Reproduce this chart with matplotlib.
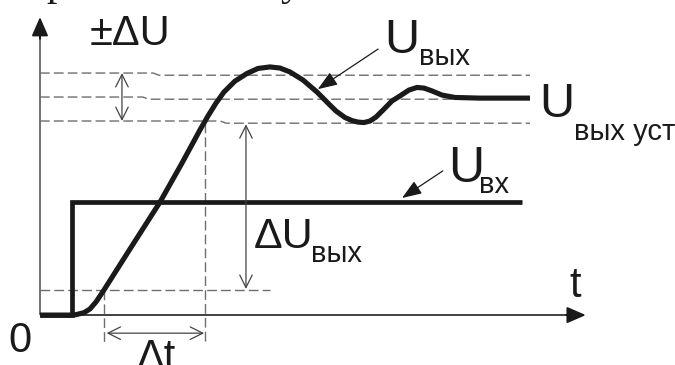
import matplotlib.pyplot as plt

# Step response: input step and output voltage (relative units, U_вых уст = 1)
t_in = [0.0, 0.65, 0.65, 9.84]
u_in = [0.0, 0.0, 0.52, 0.52]

t_out = [0.0, 0.653, 0.735, 0.898, 1.020, 1.143, 1.306, 1.837, 2.449, 2.898,
         3.265, 3.429, 3.592, 3.755, 3.980, 4.224, 4.449, 4.694, 4.898, 5.102,
         5.367, 5.653, 5.918, 6.041, 6.224, 6.367, 6.490, 6.612, 6.735, 6.857,
         7.000, 7.184, 7.347, 7.531, 7.694, 7.837, 8.000, 8.204, 8.469, 8.980, 10.0]
u_out = [0.0, 0.0, 0.002, 0.011, 0.028, 0.060, 0.115, 0.303, 0.518, 0.697,
         0.849, 0.913, 0.972, 1.023, 1.073, 1.108, 1.131, 1.138, 1.133, 1.115,
         1.078, 1.023, 0.963, 0.936, 0.906, 0.892, 0.885, 0.883, 0.890, 0.908,
         0.940, 0.982, 1.005, 1.032, 1.044, 1.041, 1.028, 1.009, 0.998, 0.995, 0.995]

# ±ΔU tolerance band (the drawing has a small jog in every dashed line)
band_left = [1.11, 1.0, 0.89]
band_right = [1.10, 0.99, 0.88]
band_jog = [2.31, 2.10, 3.68]
band_end = 10.0

u_low = 0.115      # level where Δt starts
t_low = 1.31       # output crosses u_low
t_high = 3.37      # output enters the band
low_end = 4.69

T_MAX = 11.14
U_MAX = 1.367

fig = plt.figure(figsize=(6.75, 3.65), dpi=100)
ax = fig.add_axes([0, 0, 1, 1])
ax.set_xlim(-0.816, 12.96)
ax.set_ylim(-0.229, 1.445)
ax.axis("off")

plt.rcParams["font.family"] = ["Liberation Sans", "DejaVu Sans"]

dash_kw = dict(color="#6e6e6e", lw=1.0, dashes=(7, 3))
arr_open = dict(arrowstyle="<->,head_length=0.9,head_width=0.45",
                color="#444444", lw=0.9, mutation_scale=10, shrinkA=0, shrinkB=0)
arr_fill = dict(arrowstyle="-|>,head_length=1.2,head_width=0.45",
                color="#1a1a1a", lw=0.9, mutation_scale=10, shrinkA=0, shrinkB=0)
arr_axis = dict(arrowstyle="-|>,head_length=1.15,head_width=0.5",
                color="#1a1a1a", lw=1.4, mutation_scale=10, shrinkA=0, shrinkB=0)

# axes with arrows
ax.plot([0, 0], [0, U_MAX - 0.07], color="#666666", lw=1.3, solid_capstyle="butt")
ax.plot([0, T_MAX - 0.3], [0, 0], color="#333333", lw=1.3, solid_capstyle="butt")
ax.annotate("", xy=(0, U_MAX), xytext=(0, U_MAX - 0.1), arrowprops=arr_axis)
ax.annotate("", xy=(T_MAX, 0), xytext=(T_MAX - 0.4, 0), arrowprops=arr_axis)

# dashed helper lines
for ul, ur, tj in zip(band_left, band_right, band_jog):
    ax.plot([0, tj, tj + 0.12, band_end], [ul, ul, ur, ur], **dash_kw)
ax.plot([0, low_end], [u_low, u_low], **dash_kw)
ax.plot([t_low, t_low], [u_low, -0.138], **dash_kw)
ax.plot([t_high, t_high], [band_right[2], -0.138], **dash_kw)

# curves
ax.plot(t_in, u_in, color="#1a1a1a", lw=3.4, solid_joinstyle="miter", solid_capstyle="butt")
ax.plot(t_out, u_out, color="#1a1a1a", lw=3.7, solid_joinstyle="round", solid_capstyle="butt")

# dimension arrows
ax.annotate("", xy=(1.673, band_left[0]), xytext=(1.673, band_left[2]), arrowprops=arr_open)
ax.annotate("", xy=(4.204, band_right[2] - 0.005), xytext=(4.204, u_low + 0.005), arrowprops=arr_open)
ax.annotate("", xy=(t_low + 0.05, -0.083), xytext=(t_high - 0.02, -0.083), arrowprops=arr_open)

# pointers
ax.annotate("", xy=(5.67, 1.036), xytext=(6.90, 1.22), arrowprops=arr_fill)
ax.annotate("", xy=(7.39, 0.537), xytext=(8.22, 0.661), arrowprops=arr_fill)

# labels
txt = dict(ha="left", va="baseline", color="#1a1a1a")
ax.text(1.02, 1.239, "±ΔU", fontsize=30, **txt)
ax.text(7.02, 1.202, "U", fontsize=35, **txt)
ax.text(7.73, 1.147, "вых", fontsize=21, **txt)
ax.text(10.18, 0.908, "U", fontsize=35, **txt)
ax.text(10.9, 0.803, "вых уст", fontsize=21, **txt)
ax.text(8.33, 0.610, "U", fontsize=36, **txt)
ax.text(8.96, 0.560, "вх", fontsize=21, **txt)
ax.text(4.37, 0.307, "ΔU", fontsize=31, **txt)
ax.text(5.53, 0.243, "вых", fontsize=21, **txt)
ax.text(10.80, 0.083, "t", fontsize=30, **txt)
ax.text(-0.653, -0.170, "0", fontsize=30, **txt)
ax.text(1.98, -0.248, "Δt", fontsize=30, **txt)

# fragments of the text line above the picture
ax.text(0.14, 1.468, "р", fontsize=30, family="Liberation Serif", clip_on=False, **txt)
ax.text(4.90, 1.468, "у", fontsize=30, family="Liberation Serif", clip_on=False, **txt)

fig.savefig("out.png", dpi=100)
